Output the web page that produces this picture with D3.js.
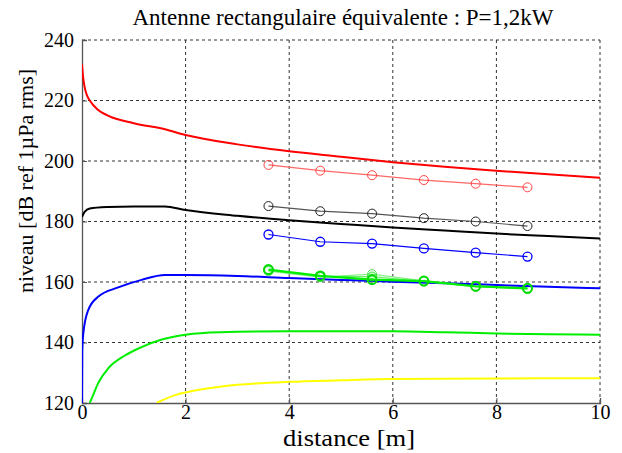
<!DOCTYPE html>
<html>
<head>
<meta charset="utf-8">
<script src="https://cdn.jsdelivr.net/npm/d3@7"></script>
<style>
body { margin: 0; background: #fff; }
#chart, #chart text { font-family: "Liberation Serif"; }
</style>
</head>
<body>
<svg id="chart" width="622" height="453" font-family="Liberation Serif"></svg>
<script>
// modelled curves (distance [m], level [dB])
let redX = [0, 0.02, 0.05, 0.1, 0.15, 0.3, 0.5, 1, 1.6, 2, 3, 4, 5, 6, 7, 8, 9, 10];
let redY = [232, 228, 224.5, 221.5, 220, 217, 215, 212.5, 210.5, 208.6, 205.5, 203.2, 201.4, 199.6, 198.1, 196.8, 195.6, 194.5];
let blackX = [0, 0.05, 0.15, 0.5, 1, 1.6, 2, 3, 4, 5, 6, 7, 8, 9, 10];
let blackY = [181.5, 183.2, 184.3, 184.8, 185, 185, 183.8, 181.9, 180.4, 179.2, 178, 177, 176, 175.2, 174.4];
let blueX = [0, 0.005, 0.025, 0.12, 0.31, 0.7, 1.15, 1.6, 2, 3, 4, 5, 6, 7, 8, 9, 10];
let blueY = [115, 137, 143, 150.7, 155.1, 158.2, 160.7, 162.3, 162.3, 162, 161.3, 160.7, 160.1, 159.6, 159, 158.4, 157.9];
let greenX = [0.15, 0.2, 0.31, 0.51, 0.83, 1.15, 1.54, 2, 2.66, 4, 6, 7, 8, 9, 10];
let greenY = [120, 122, 126.5, 131.5, 135.7, 138.5, 141, 142.6, 143.4, 143.7, 143.7, 143.4, 143, 142.7, 142.6];
let yellowX = [1.44, 1.6, 1.8, 2.2, 2.66, 3, 4, 5, 6, 8, 10];
let yellowY = [120, 121.3, 122.6, 124.2, 125.4, 126, 127, 127.5, 127.9, 128.1, 128.2];

// measurements
let measX = [3.6, 4.6, 5.6, 6.6, 7.6, 8.6];
let measRed = [198.7, 196.8, 195.3, 193.7, 192.5, 191.3];
let measBlack = [185.1, 183.4, 182.6, 181.1, 180, 178.5];
let measBlue = [175.7, 173.3, 172.7, 171.1, 169.7, 168.4];
let measGreen1 = [164.1, 162, 160.8, 160.3, 158.6, 157.9];
let measGreen2 = [163.6, 161.6, 162.6, 160.4, 158.4, 157.7];
let measGreen3 = [163.9, 161.8, 161.8, 160.2, 158.5, 157.8];

let xTicks = [0, 2, 4, 6, 8, 10];
let yTicks = [120, 140, 160, 180, 200, 220, 240];

let W = 622, H = 453;
let margin = {top: 40, right: 22, bottom: 50, left: 82},
    width = W - margin.left - margin.right,
    height = H - margin.top - margin.bottom;

let svg = d3.select("#chart");

let x = d3.scaleLinear().domain([0, 10]).range([0, width]);
let y = d3.scaleLinear().domain([120, 240]).range([height, 0]);

let g = svg.append("g")
    .attr("transform", "translate(" + margin.left + "," + margin.top + ")");

svg.append("defs").append("clipPath").attr("id", "clip")
    .append("rect").attr("x", 0).attr("y", 0).attr("width", width).attr("height", height);

// grid
g.append("g")
    .selectAll("line").data(xTicks.slice(1)).enter().append("line")
    .attr("x1", d => x(d)).attr("x2", d => x(d))
    .attr("y1", 0).attr("y2", height)
    .attr("stroke", "#333").attr("stroke-width", 1)
    .attr("stroke-dasharray", "3,3");
g.append("g")
    .selectAll("line").data(yTicks.slice(1)).enter().append("line")
    .attr("x1", 0).attr("x2", width)
    .attr("y1", d => y(d)).attr("y2", d => y(d))
    .attr("stroke", "#333").attr("stroke-width", 1)
    .attr("stroke-dasharray", "3,3");

// axes
let xAxis = g.append("g")
    .attr("transform", "translate(0," + height + ")")
    .call(d3.axisBottom(x).tickValues(xTicks).tickSize(-5).tickPadding(2));
let yAxis = g.append("g")
    .call(d3.axisLeft(y).tickValues(yTicks).tickSize(-5).tickPadding(8));
[xAxis, yAxis].forEach(function (a) {
    a.attr("font-family", "Liberation Serif").attr("font-size", 20);
    a.select(".domain").attr("stroke", "#555").attr("stroke-width", 1.3);
    a.selectAll(".tick line").attr("stroke", "#555");
    a.selectAll("text").attr("fill", "#000");
});
yAxis.selectAll("text").attr("dy", "0.32em");

// curves
let plot = g.append("g").attr("clip-path", "url(#clip)");
let line = d3.line()
    .x(d => x(d[0]))
    .y(d => y(d[1]))
    .curve(d3.curveMonotoneX);

function zip(a, b) {
    let res = [];
    for (let i = 0; i < a.length; i++) {
        res.push([a[i], b[i]]);
    }
    return res;
}

let curves = [
    {xs: redX, ys: redY, color: "#ff0000"},
    {xs: blackX, ys: blackY, color: "#000000"},
    {xs: blueX, ys: blueY, color: "#0000ff"},
    {xs: greenX, ys: greenY, color: "#00ee00"},
    {xs: yellowX, ys: yellowY, color: "#ffff00"}
];
curves.forEach(function (c) {
    plot.append("path")
        .datum(zip(c.xs, c.ys))
        .attr("d", line)
        .attr("fill", "none")
        .attr("stroke", c.color)
        .attr("stroke-width", 2);
});

// measured points
let straight = d3.line().x(d => x(d[0])).y(d => y(d[1]));
let meas = [
    {ys: measRed, line: "#ff6666", mark: "#ff4444", w: 1.2, mw: 1},
    {ys: measBlack, line: "#555555", mark: "#222222", w: 1.2, mw: 1},
    {ys: measBlue, line: "#0000ff", mark: "#0000ff", w: 1.2, mw: 1.3},
    {ys: measGreen2, line: "#88f088", mark: "#55e055", w: 1.2, mw: 1},
    {ys: measGreen3, line: "#66ee66", mark: "#33dd33", w: 1.2, mw: 1},
    {ys: measGreen1, line: "#00ee00", mark: "#00dd00", w: 2.2, mw: 2}
];
meas.forEach(function (m) {
    let pts = zip(measX, m.ys);
    plot.append("path")
        .datum(pts)
        .attr("d", straight)
        .attr("fill", "none")
        .attr("stroke", m.line)
        .attr("stroke-width", m.w);
    plot.append("g").selectAll("circle").data(pts).enter().append("circle")
        .attr("cx", d => x(d[0]))
        .attr("cy", d => y(d[1]))
        .attr("r", 4.5)
        .attr("fill", "none")
        .attr("stroke", m.mark)
        .attr("stroke-width", m.mw);
});

// labels
svg.append("text")
    .attr("x", 343)
    .attr("y", 25)
    .attr("text-anchor", "middle")
    .attr("font-size", 23)
    .text("Antenne rectangulaire équivalente : P=1,2kW");
svg.append("text")
    .attr("x", 349)
    .attr("y", 446)
    .attr("text-anchor", "middle")
    .attr("font-size", 24)
    .attr("textLength", 132)
    .attr("lengthAdjust", "spacingAndGlyphs")
    .text("distance [m]");
svg.append("text")
    .attr("transform", "translate(33,181) rotate(-90)")
    .attr("text-anchor", "middle")
    .attr("font-size", 22)
    .text("niveau [dB ref 1µPa rms]");
</script>
</body>
</html>
